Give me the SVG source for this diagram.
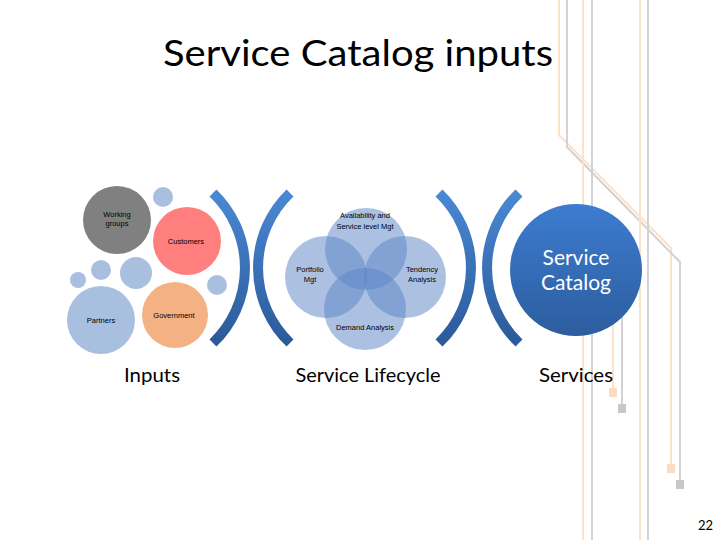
<svg xmlns="http://www.w3.org/2000/svg" width="720" height="540" viewBox="0 0 720 540">
  <defs>
    <linearGradient id="arcGrad" x1="0" y1="0" x2="0" y2="1">
      <stop offset="0" stop-color="#4A88D4"/>
      <stop offset="1" stop-color="#2B5A9A"/>
    </linearGradient>
    <linearGradient id="catGrad" x1="0" y1="0" x2="0" y2="1">
      <stop offset="0" stop-color="#3D7CD0"/>
      <stop offset="1" stop-color="#2C5D9E"/>
    </linearGradient>
  </defs>
  <style>
    .ln-o { fill: none; stroke: #FBE3CA; stroke-width: 2; }
    .ln-g { fill: none; stroke: #D2D2D6; stroke-width: 2; }
    .sq-o { fill: #FADCC0; }
    .sq-g { fill: #C8C8CC; }
    .arc { fill: none; stroke: url(#arcGrad); stroke-width: 10; }
    .venn { fill: #5A84C6; fill-opacity: 0.5; }
    .small { font-family: "Liberation Sans", Arial, sans-serif; font-size: 7.5px; fill: #000; text-anchor: middle; }
    .label { font-family: Lato, "Open Sans", sans-serif; font-size: 20px; fill: #000; text-anchor: middle; }
  </style>
  <rect width="720" height="540" fill="#FFFFFF"/>

  <g id="decor-lines">
    <polyline class="ln-o" points="559,0 559,135 671,248 671,466"/>
    <polyline class="ln-g" points="567,0 567,147 680,262 680,482"/>
    <line class="ln-o" x1="583" y1="0" x2="583" y2="540"/>
    <line class="ln-g" x1="592" y1="0" x2="592" y2="540"/>
    <line class="ln-o" x1="640" y1="0" x2="640" y2="540"/>
    <line class="ln-g" x1="648" y1="0" x2="648" y2="540"/>
    <line class="ln-o" x1="613" y1="300" x2="613" y2="390"/>
    <line class="ln-g" x1="622" y1="300" x2="622" y2="406"/>
    <rect class="sq-o" x="609" y="388" width="8" height="9"/>
    <rect class="sq-g" x="618" y="404" width="8" height="9"/>
    <rect class="sq-o" x="667" y="464" width="8" height="9"/>
    <rect class="sq-g" x="676" y="480" width="8" height="9"/>
  </g>

  <text x="358" y="66" font-family="Lato, 'Open Sans', sans-serif" font-size="37" text-anchor="middle" textLength="390" lengthAdjust="spacingAndGlyphs" fill="#000">Service Catalog inputs</text>

  <g id="inputs">
    <g id="working-groups">
      <circle cx="117" cy="220" r="34" fill="#808080"/>
      <text class="small" x="117" y="217">Working</text>
      <text class="small" x="117" y="226">groups</text>
    </g>
    <circle cx="163" cy="197" r="10" fill="#A9BFDF"/>
    <g id="customers">
      <circle cx="187" cy="241" r="34" fill="#FF7F7F"/>
      <text class="small" x="186" y="244">Customers</text>
    </g>
    <circle cx="78" cy="280" r="8" fill="#A9BFDF"/>
    <circle cx="101" cy="270" r="10" fill="#A9BFDF"/>
    <circle cx="136" cy="273" r="16" fill="#A9BFDF"/>
    <circle cx="217" cy="285" r="10" fill="#A9BFDF"/>
    <g id="partners">
      <circle cx="101" cy="320" r="34" fill="#A9BFDF"/>
      <text class="small" x="101" y="323">Partners</text>
    </g>
    <g id="government">
      <circle cx="175" cy="315" r="33" fill="#F4B183"/>
      <text class="small" x="174" y="318">Government</text>
    </g>
  </g>

  <g id="brackets">
    <path class="arc" d="M213,193 A104,104 0 0 1 213,343"/>
    <path class="arc" d="M290,193 A104,104 0 0 0 290,343"/>
    <path class="arc" d="M439,193 A104,104 0 0 1 439,343"/>
    <path class="arc" d="M519,193 A104,104 0 0 0 519,343"/>
  </g>

  <g id="lifecycle">
    <circle class="venn" cx="366" cy="249" r="41"/>
    <circle class="venn" cx="326" cy="277" r="41"/>
    <circle class="venn" cx="405" cy="277" r="41"/>
    <circle class="venn" cx="365" cy="309" r="41"/>
    <text class="small" x="365" y="218">Availability and</text>
    <text class="small" x="365" y="229">Service level Mgt</text>
    <text class="small" x="310" y="272">Portfolio</text>
    <text class="small" x="310" y="282">Mgt</text>
    <text class="small" x="422" y="272">Tendency</text>
    <text class="small" x="422" y="282">Analysis</text>
    <text class="small" x="365" y="330">Demand Analysis</text>
  </g>

  <g id="service-catalog">
    <circle cx="576" cy="270" r="66" fill="url(#catGrad)"/>
    <text x="576" y="265" font-family="Lato, 'Open Sans', sans-serif" font-size="21" fill="#FFFFFF" text-anchor="middle">Service</text>
    <text x="576" y="290" font-family="Lato, 'Open Sans', sans-serif" font-size="21" fill="#FFFFFF" text-anchor="middle">Catalog</text>
  </g>

  <g id="labels">
    <text class="label" x="152" y="382" textLength="56" lengthAdjust="spacingAndGlyphs">Inputs</text>
    <text class="label" x="368" y="382" textLength="145" lengthAdjust="spacingAndGlyphs">Service Lifecycle</text>
    <text class="label" x="576" y="382" textLength="74" lengthAdjust="spacingAndGlyphs">Services</text>
  </g>

  <text x="713" y="530" font-family="Lato, 'Open Sans', sans-serif" font-size="13" text-anchor="end" fill="#000">22</text>
</svg>
